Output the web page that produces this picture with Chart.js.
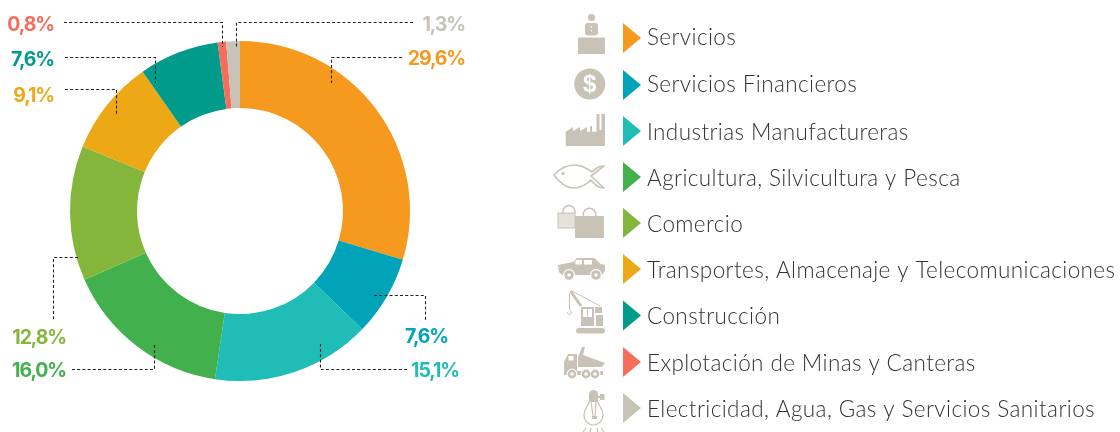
<!DOCTYPE html>
<html><head><meta charset="utf-8">
<style>html,body{margin:0;padding:0;background:#fff}canvas{display:block}</style>
<script src="https://cdn.jsdelivr.net/npm/chart.js@4"></script>
</head><body>
<div style="width:1120px;height:432px;position:relative"><canvas id="c" width="1120" height="432"></canvas></div>
<script>
const categories=["Servicios","Servicios Financieros","Industrias Manufactureras","Agricultura, Silvicultura y Pesca","Comercio","Transportes, Almacenaje y Telecomunicaciones","Construcción","Explotación de Minas y Canteras","Electricidad, Agua, Gas y Servicios Sanitarios"];
const values=[29.6,7.6,15.1,16.0,12.8,9.1,7.6,0.8,1.3];
const colors=["#f5991f","#00a3b8","#1fbdb6","#41b04d","#84b63c","#eca915","#009b8b","#f46e5b","#c9c2b6"];
const valueLabels=["29,6%","7,6%","15,1%","16,0%","12,8%","9,1%","7,6%","0,8%","1,3%"];
const labelPos=[[465,59],[448,337],[459,371],[66,371],[66,338],[54,96],[54,60],[54,25],[465,25]];
const leaders=[[[402,57.5],[331.5,57.5],[331.5,83]],[[374,295.5],[425.5,295.5],[425.5,320]],[[407,369.5],[320.5,369.5],[320.5,344]],[[72,369.5],[154.5,369.5],[154.5,344]],[[78,257.5],[53.5,257.5],[53.5,320]],[[65,89.5],[116.5,89.5],[116.5,115]],[[65,57.5],[155.5,57.5],[155.5,83]],[[64,22.5],[222.5,22.5],[222.5,47]],[[413,22.5],[236.5,22.5],[236.5,47]]];
const legendY=[38,85,131,177,223,269,315.5,362,408];
const legendTextY=[38,85,132.5,178.5,224.5,271,317,363.5,409.5];
const ICON="#c9c2b6",ICON2="#e5e1db";
const iconDraw=[
 c=>{c.fillStyle=ICON;c.fillRect(578,37.5,27,16.5);c.beginPath();c.arc(591.5,17.5,3.6,0,7);c.fill();c.beginPath();c.roundRect(585,23,13,12.5,3);c.fill();c.fillStyle="#fff";c.fillRect(591,26,1,1.5);c.fillRect(591,30,1,1.5);},
 c=>{c.fillStyle=ICON;c.beginPath();c.arc(589.7,84,15.5,0,7);c.fill();c.fillStyle="#fff";c.font="bold 24px 'Liberation Sans'";c.textAlign="center";c.textBaseline="middle";c.fillText("$",589.7,85);},
 c=>{c.fillStyle=ICON;c.fill(new Path2D("M565.7 146V131.7L573 127V131L580 127V131L587 127V131.7H590V126H592V131.7H596.5V114H599.5V130H601.5V114H605V146Z"));},
 c=>{c.strokeStyle=ICON;c.lineWidth=1.6;c.lineJoin="round";c.stroke(new Path2D("M554 175C560 168 567 165 575 165C583 165 589 170 592 172C595 169 598 166 604 166L591 176L604 188C598 188 594 184 591 180C587 184 581 188 573 188C566 188 560 183 554 175Z"));c.fillStyle=ICON;c.beginPath();c.arc(563,173.5,1.6,0,7);c.fill();},
 c=>{c.fillStyle=ICON2;c.fillRect(558,213,17,15);c.strokeStyle=ICON;c.lineWidth=1;c.strokeRect(558,213,17,15);c.lineWidth=1.4;c.beginPath();c.moveTo(563,213);c.arc(569,211.5,6,Math.PI,0);c.lineTo(575,213);c.stroke();c.fillStyle=ICON;c.fillRect(575,216,29,22);c.beginPath();c.moveTo(583,216);c.arc(589.5,214.5,6.2,Math.PI,0);c.lineTo(596,216);c.stroke();},
 c=>{c.fillStyle=ICON;c.fill(new Path2D("M558 265L573 262L577 258H594L601 264L605 265V271L602 275H562L559 272Z"));c.fillStyle="#fff";c.fillRect(575.5,260,6.5,4.5);c.fillRect(584,260,8,4.5);c.beginPath();c.arc(569,275,6,0,7);c.arc(596,275,6,0,7);c.fill();c.fillStyle=ICON;c.beginPath();c.arc(569,275,4.8,0,7);c.arc(596,275,4.8,0,7);c.fill();c.fillStyle="#fff";c.beginPath();c.arc(569,275,1.8,0,7);c.arc(596,275,1.8,0,7);c.fill();},
 c=>{c.fillStyle=ICON;c.beginPath();c.roundRect(576,328,29,5.5,2.7);c.fill();c.fillRect(581,307,13,19);c.fillRect(596,315,7,11);c.fillRect(595,307,7,6);c.strokeStyle=ICON;c.lineWidth=3;c.beginPath();c.moveTo(570.5,291);c.lineTo(581,306);c.stroke();c.lineWidth=1;c.beginPath();c.moveTo(572,291);c.lineTo(600,306);c.moveTo(569.5,293);c.lineTo(569.5,310);c.stroke();c.beginPath();c.arc(569.5,312.5,2,-1.2,3.4);c.stroke();c.fillStyle="#fff";c.fillRect(583,309,4,8);c.fillRect(588,309,4,8);},
 c=>{c.fillStyle=ICON;c.fill(new Path2D("M564 374V362L568 354H577V371H603V375H564Z"));c.fillStyle="#fff";c.fillRect(568.5,356,5,4.5);c.fillStyle=ICON;c.fill(new Path2D("M578 367V357L582 347H585L583 355L605 363L602 367Z"));c.fillStyle="#fff";c.beginPath();c.arc(572,374,5.4,0,7);c.arc(586,374,5.4,0,7);c.arc(595,374,5.4,0,7);c.fill();c.fillStyle=ICON;c.beginPath();c.arc(572,374,4.4,0,7);c.arc(586,374,4.4,0,7);c.arc(595,374,4.4,0,7);c.fill();c.fillStyle="#fff";c.beginPath();c.arc(572,374,1.8,0,7);c.arc(586,374,1.8,0,7);c.arc(595,374,1.8,0,7);c.fill();},
 c=>{c.fillStyle=ICON;c.beginPath();c.roundRect(589,390,9,12,[4.5,4.5,0,0]);c.fill();c.fillRect(597,396,4,2);c.fillRect(600,394,4.5,6);c.strokeStyle=ICON;c.lineWidth=1.2;c.stroke(new Path2D("M589 402C589 405 584 408 584 415C584 421 589 425 593.5 425C598 425 603 421 603 415C603 408 598 405 598 402M591 402L593 416M596 402L595 416M583 432L586 428M590 432L591 428M597 428L598 432M601 428L604 432"));c.fillRect(592,416,5,3);}
];
const overlay={id:"overlay",afterDatasetsDraw(chart){
 const c=chart.ctx;c.save();
 c.strokeStyle="#222";c.lineWidth=1.1;c.setLineDash([3,2.2]);
 leaders.forEach(l=>{c.beginPath();c.moveTo(l[0][0],l[0][1]);c.lineTo(l[1][0],l[1][1]);c.lineTo(l[2][0],l[2][1]);c.stroke();});
 c.setLineDash([]);
 c.textBaseline="middle";c.font="700 19.5px Inter";c.letterSpacing="-1.1px";c.textAlign="right";
 valueLabels.forEach((t,i)=>{c.fillStyle=colors[i];c.fillText(t,labelPos[i][0],labelPos[i][1]);});
 categories.forEach((t,i)=>{const y=legendY[i];
  c.fillStyle=colors[i];c.beginPath();c.moveTo(623,y-15);c.lineTo(641,y);c.lineTo(623,y+15);c.closePath();c.fill();
  c.letterSpacing="0.4px";c.fillStyle="#333";c.textAlign="left";c.textBaseline="middle";c.font="300 22.5px Lato";c.fillText(t,647,legendTextY[i]);
  c.letterSpacing="0px";
  c.save();iconDraw[i](c);c.restore();
 });
 c.restore();
}};
new Chart(document.getElementById("c"),{type:"doughnut",
 data:{labels:categories,datasets:[{data:values,backgroundColor:colors,borderWidth:0}]},
 options:{responsive:false,animation:false,cutout:"60.6%",layout:{padding:{left:70,right:710,top:41,bottom:51}},
  plugins:{legend:{display:false},tooltip:{enabled:false}}},
 plugins:[overlay]});
</script>
</body></html>
